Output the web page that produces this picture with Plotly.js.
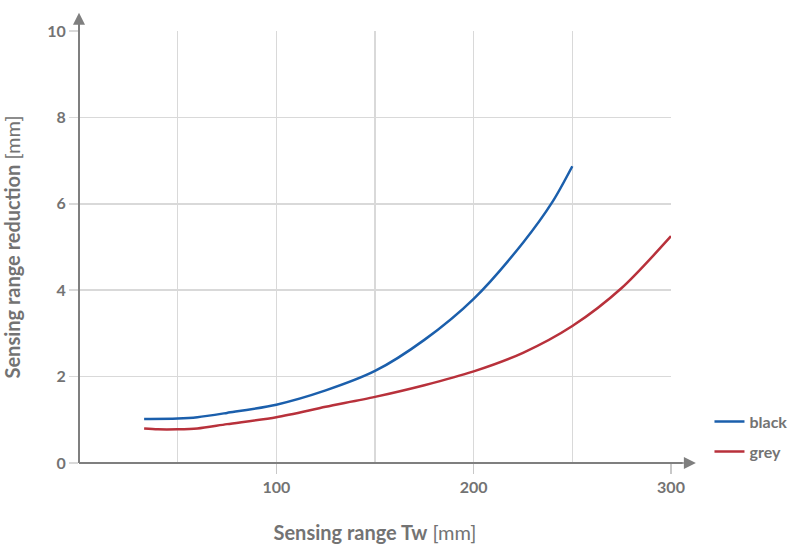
<!DOCTYPE html>
<html><head><meta charset="utf-8">
<script src="https://cdn.plot.ly/plotly-3.0.1.min.js"></script>
<style>body{margin:0;background:#fff}#c{width:805px;height:554px}</style>
</head><body><div id="c"></div>
<script>
const blackX = [33, 50, 60, 75, 100, 125, 150, 175, 200, 225, 240, 250];
const blackY = [1.02, 1.03, 1.06, 1.16, 1.35, 1.68, 2.13, 2.85, 3.8, 5.1, 6.05, 6.87];
const greyX = [33, 40, 50, 60, 75, 100, 125, 150, 175, 200, 225, 250, 275, 300];
const greyY = [0.8, 0.78, 0.78, 0.8, 0.9, 1.06, 1.3, 1.53, 1.8, 2.12, 2.55, 3.17, 4.05, 5.25];
const xTicks = [100, 200, 300];
const yTicks = [0, 2, 4, 6, 8, 10];

const txt = '#737373';
const fnt = 'Lato, "Open Sans", sans-serif';
const traces = [
  {x: blackX, y: blackY, name: 'black', legendgroup: 'a', mode: 'lines', line: {color: '#1b5fac', width: 2.5, shape: 'spline', smoothing: 0.8}},
  {x: greyX, y: greyY, name: 'grey', legendgroup: 'b', mode: 'lines', line: {color: '#b8313b', width: 2.5, shape: 'spline', smoothing: 0.8}}
];
const layout = {
  width: 805, height: 554,
  margin: {l: 79, r: 134, t: 31, b: 91, autoexpand: false},
  paper_bgcolor: '#fff', plot_bgcolor: '#fff',
  font: {family: fnt, color: txt},
  showlegend: true,
  legend: {x: 1.065, y: 0.135, xanchor: 'left', yanchor: 'top', traceorder: 'grouped', tracegroupgap: 6,
    font: {size: 16, color: txt, family: fnt, weight: 'bold'}},
  xaxis: {
    range: [0, 300], tickvals: xTicks, ticktext: xTicks.map(String),
    showgrid: false, zeroline: false, showline: false,
    ticks: 'outside', ticklen: 10, tickcolor: '#c8c8c8', tickwidth: 1.5,
    tickfont: {size: 16, color: txt, family: fnt, weight: 'bold'},
    title: {text: '<b>Sensing range Tw</b> [mm]', font: {size: 20, color: txt, family: fnt}, standoff: 30}
  },
  xaxis2: {overlaying: 'x', range: [0, 300], dtick: 50, showgrid: true, gridcolor: '#d9d9d9', gridwidth: 1.5, showticklabels: false, zeroline: false},
  yaxis: {
    range: [0, 10], tickvals: yTicks, ticktext: yTicks.map(String),
    showgrid: true, gridcolor: '#d9d9d9', gridwidth: 1.5, zeroline: false, showline: false,
    ticks: 'outside', ticklen: 9, tickcolor: '#d9d9d9', tickwidth: 1.5,
    tickfont: {size: 16, color: txt, family: fnt, weight: 'bold'},
    title: {text: '<b>Sensing range reduction</b> [mm]', font: {size: 20, color: txt, family: fnt}, standoff: 22}
  },
  shapes: [
    {type: 'line', xref: 'paper', yref: 'paper', x0: 0, y0: 0, x1: 1.02, y1: 0, line: {color: '#7f7f7f', width: 2}, layer: 'above'},
    {type: 'line', xref: 'paper', yref: 'paper', x0: 0, y0: 0, x1: 0, y1: 1.02, line: {color: '#7f7f7f', width: 2}, layer: 'above'}
  ],
  annotations: [
    {xref: 'paper', yref: 'paper', x: 1.042, y: 0, ax: -14, ay: 0, text: '', showarrow: true, arrowhead: 2, arrowsize: 1.2, arrowwidth: 2, arrowcolor: '#7f7f7f'},
    {xref: 'paper', yref: 'paper', x: 0, y: 1.042, ax: 0, ay: 14, text: '', showarrow: true, arrowhead: 2, arrowsize: 1.2, arrowwidth: 2, arrowcolor: '#7f7f7f'}
  ]
};
traces.push({x: [0], y: [0], xaxis: 'x2', mode: 'markers', marker: {opacity: 0}, showlegend: false, hoverinfo: 'skip'});
Plotly.newPlot('c', traces, layout, {displayModeBar: false, staticPlot: true});
</script></body></html>
